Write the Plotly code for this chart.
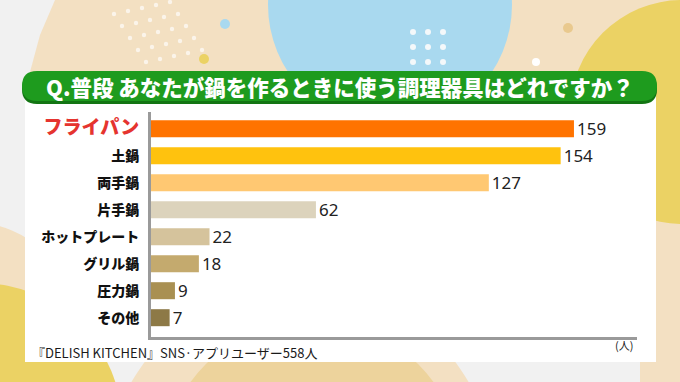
import plotly.graph_objects as go

categories = ["フライパン", "土鍋", "両手鍋", "片手鍋", "ホットプレート", "グリル鍋", "圧力鍋", "その他"]
values = [159, 154, 127, 62, 22, 18, 9, 7]
bar_colors = ["#FF7300", "#FFC20E", "#FFC872", "#DCD3BC", "#D5C39C", "#C4AA6E", "#A99052", "#8D7946"]
title_text = "Q.普段 あなたが鍋を作るときに使う調理器具はどれですか？"
source_text = "『DELISH KITCHEN』SNS·アプリユーザー558人"
unit_text = "(人)"

W, H = 680, 382


def px(x):
    return x / W


def py(y):
    return 1 - y / H


def circle(cx, cy, r, color, layer="below"):
    return dict(type="circle", xref="paper", yref="paper",
                x0=px(cx - r), x1=px(cx + r), y0=py(cy + r), y1=py(cy - r),
                fillcolor=color, line=dict(width=0), layer=layer)


def rect(x0, y0, x1, y1, color, layer="below"):
    return dict(type="rect", xref="paper", yref="paper",
                x0=px(x0), x1=px(x1), y0=py(y1), y1=py(y0),
                fillcolor=color, line=dict(width=0), layer=layer)


def poly(points, color, layer="below"):
    d = "M " + " L ".join(f"{px(x):.5f},{py(y):.5f}" for x, y in points) + " Z"
    return dict(type="path", xref="paper", yref="paper", path=d,
                fillcolor=color, line=dict(width=0), layer=layer)


def rounded(x0, y0, x1, y1, r, color, layer="below"):
    pts = [
        ("M", x0 + r, y0), ("L", x1 - r, y0), ("Q", x1, y0, x1, y0 + r),
        ("L", x1, y1 - r), ("Q", x1, y1, x1 - r, y1), ("L", x0 + r, y1),
        ("Q", x0, y1, x0, y1 - r), ("L", x0, y0 + r), ("Q", x0, y0, x0 + r, y0),
    ]
    d = ""
    for p in pts:
        if p[0] == "Q":
            d += f"Q {px(p[1]):.5f},{py(p[2]):.5f} {px(p[3]):.5f},{py(p[4]):.5f} "
        else:
            d += f"{p[0]} {px(p[1]):.5f},{py(p[2]):.5f} "
    d += "Z"
    return dict(type="path", xref="paper", yref="paper", path=d,
                fillcolor=color, line=dict(width=0), layer=layer)


BEIGE = "#F3E0C2"
TAN = "#EDD39C"
BLUE = "#A9D9EF"
YELLOW = "#EBD264"

shapes = [
    poly([(55, 0), (290, 0), (290, 110), (26, 110), (30, 72), (40, 35)], BEIGE),
    rect(480, 0, 680, 110, BEIGE),
    rect(640, 200, 680, 382, BEIGE),
    circle(390, 5, 122, BLUE),
    circle(682, 112, 112, YELLOW),
    circle(-30, 330, 108, BEIGE),
    circle(-20, 425, 142, YELLOW),
    circle(300, 480, 195, BEIGE),
    circle(312, 470, 150, TAN),
    circle(225, 24, 5, BLUE),
    circle(204, 59, 5, YELLOW),
    circle(568, 28, 5, "#E9C98E"),
    circle(536, 62, 4, "#FFFFFF"),
]
for i in range(3):
    for j in range(3):
        shapes.append(circle(413 + 15 * j, 32 + 15 * i, 3, "#F4F8FA"))
for i in range(5):
    for j in range(6):
        x = 100 + 14 * j + 8 * i
        y = 17 + 12 * i - 3 * j
        if x > 60 + 0.9 * y + 30:
            shapes.append(circle(x, y, 2.2, "#FBF4EA"))

shapes.append(rect(25, 92, 656, 362, "#FFFFFF"))
shapes.append(rounded(22, 73, 657, 104, 15, "#137513"))
shapes.append(rounded(22, 71, 657, 101, 15, "#1E9B1E"))

ticktext = [
    f'<span style="color:#E5342F;font-size:19px">{c}</span>' if i == 0 else c
    for i, c in enumerate(categories)
]

fig = go.Figure(
    go.Bar(
        x=values,
        y=categories,
        orientation="h",
        marker=dict(color=bar_colors, line=dict(width=0)),
        text=[str(v) for v in values],
        textposition="outside",
        constraintext="none",
        textfont=dict(family="Noto Sans, sans-serif", size=17, color="#222222"),
        cliponaxis=False,
        hoverinfo="skip",
    )
)

fig.update_layout(
    width=W, height=H,
    margin=dict(l=0, r=0, t=0, b=0),
    paper_bgcolor="#F1F1F1",
    plot_bgcolor="rgba(0,0,0,0)",
    bargap=0.37,
    showlegend=False,
    shapes=shapes,
    xaxis=dict(
        domain=[px(151), px(637)],
        range=[0, 182.7],
        showgrid=False, zeroline=False, showticklabels=False,
        showline=True, linecolor="#9A9A9A", linewidth=3, ticks="",
    ),
    yaxis=dict(
        domain=[py(337), py(112)],
        range=[7.715, -0.62],
        categoryorder="array", categoryarray=categories,
        tickmode="array", tickvals=categories, ticktext=ticktext,
        showgrid=False, zeroline=False,
        showline=True, linecolor="#9A9A9A", linewidth=3, ticks="",
        ticklabelstandoff=6,
        tickfont=dict(family="Noto Sans CJK JP", size=14, color="#111111", weight=900),
    ),
    annotations=[
        dict(text=title_text, xref="paper", yref="paper", x=px(340), y=py(87),
             xanchor="center", yanchor="middle", showarrow=False,
             font=dict(family="Noto Sans CJK JP", size=21.5, color="#FFFFFF", weight=900)),
        dict(text=source_text, xref="paper", yref="paper", x=px(30), y=py(352),
             xanchor="left", yanchor="middle", showarrow=False,
             font=dict(family="Noto Sans CJK JP", size=13, color="#1A1A1A")),
        dict(text=unit_text, xref="paper", yref="paper", x=px(635), y=py(345),
             xanchor="right", yanchor="middle", showarrow=False,
             font=dict(family="Noto Sans CJK JP", size=11, color="#1A1A1A")),
    ],
)

fig.write_html(
    "out.html",
    config={"displayModeBar": False},
    post_script="document.body.style.margin='0';document.body.style.overflow='hidden';",
)
